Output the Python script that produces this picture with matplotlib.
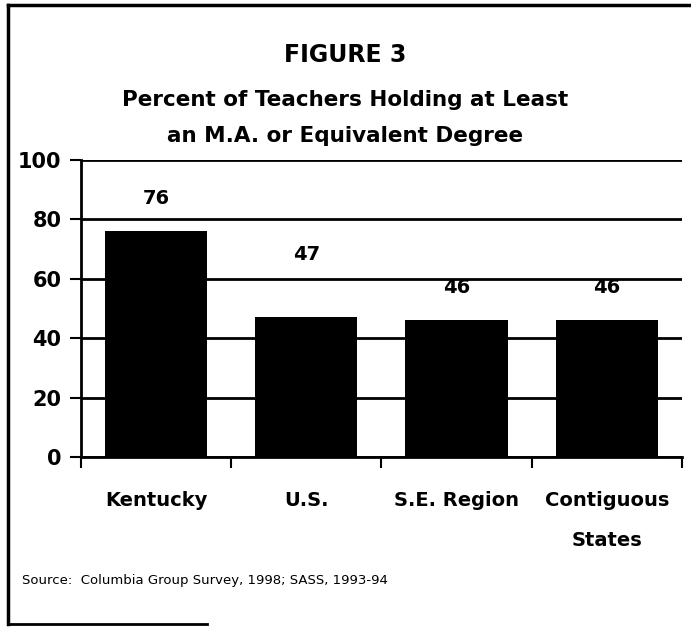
import matplotlib.pyplot as plt
from matplotlib.lines import Line2D

# Данные графика
categories = ['Kentucky', 'U.S.', 'S.E. Region', 'Contiguous\nStates']
values = [76, 47, 46, 46]
label_offsets = [11, 21, 11, 11]
yticks = [0, 20, 40, 60, 80, 100]

plt.rcParams['font.family'] = ['DejaVu Sans']

fig = plt.figure(figsize=(6.91, 6.27), dpi=100)
ax = fig.add_axes([0.117, 0.271, 0.870, 0.474])

x = list(range(len(categories)))
ax.bar(x, values, width=0.68, color='black', zorder=3)

# Подписи значений над столбцами
for xi, v, off in zip(x, values, label_offsets):
    ax.text(xi, v + off, str(v), ha='center', va='center',
            fontsize=14, fontweight='bold')

ax.set_xlim(-0.5, len(categories) - 0.5)
ax.set_ylim(0, 100)
ax.set_yticks(yticks)
ax.set_yticklabels([str(t) for t in yticks], fontsize=15, fontweight='bold')
ax.yaxis.grid(True, color='black', linewidth=2, zorder=0)
ax.set_axisbelow(True)

# Засечки по оси X на границах категорий
ax.set_xticks([i - 0.5 for i in range(len(categories) + 1)])
ax.set_xticklabels([])
ax.tick_params(axis='x', direction='out', length=8, width=1.5)
ax.tick_params(axis='y', direction='out', length=8, width=1.5, pad=6)
for xi, c in zip(x, categories):
    ax.text(xi, -11.5, c, ha='center', va='top', fontsize=14,
            fontweight='bold', linespacing=2.4)

for s in ['top', 'right']:
    ax.spines[s].set_visible(False)
ax.spines['left'].set_linewidth(2)
ax.spines['bottom'].set_linewidth(2)

fig.text(0.5, 0.912, 'FIGURE 3', ha='center', va='center',
         fontsize=17, fontweight='bold')
fig.text(0.5, 0.840, 'Percent of Teachers Holding at Least', ha='center',
         va='center', fontsize=15.5, fontweight='bold')
fig.text(0.5, 0.783, 'an M.A. or Equivalent Degree', ha='center',
         va='center', fontsize=15.5, fontweight='bold')
fig.text(0.032, 0.074, 'Source:  Columbia Group Survey, 1998; SASS, 1993-94',
         ha='left', va='center', fontsize=9.5)

# Рамка вокруг рисунка (как на скане: без правой стороны)
fig.lines.append(Line2D([0.012, 1.0], [0.992, 0.992], transform=fig.transFigure,
                        color='black', linewidth=2.5))
fig.lines.append(Line2D([0.012, 0.012], [0.004, 0.992], transform=fig.transFigure,
                        color='black', linewidth=2.5))
fig.lines.append(Line2D([0.012, 0.30], [0.005, 0.005], transform=fig.transFigure,
                        color='black', linewidth=2))

fig.savefig('out.png', dpi=100)
